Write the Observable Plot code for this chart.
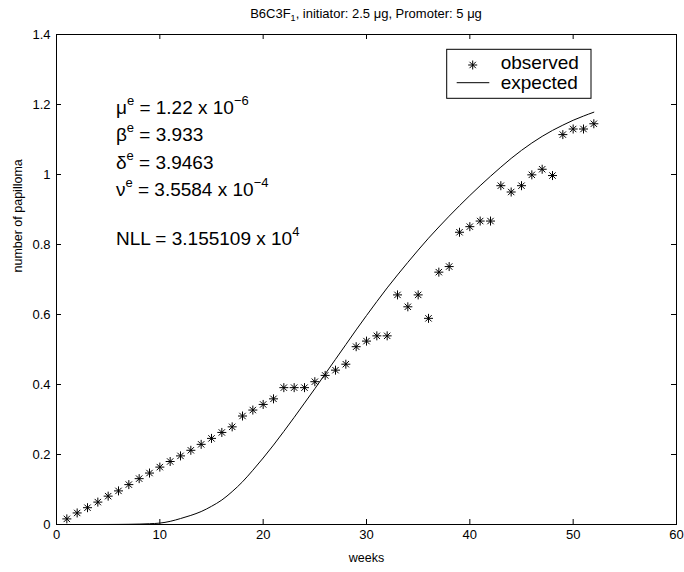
<!DOCTYPE html>
<html>
<head>
<meta charset="utf-8">
<script src="https://cdn.jsdelivr.net/npm/d3@7"></script>
<script src="https://cdn.jsdelivr.net/npm/@observablehq/plot@0.6"></script>
<style>
  html, body { margin: 0; padding: 0; background: #fff; }
  #chart svg { font-family: "Liberation Sans", Arial, Helvetica, sans-serif; background: #fff; }
</style>
</head>
<body>
<div id="chart"></div>
<script>
// ---------- data ----------
const weeks = [1,2,3,4,5,6,7,8,9,10,11,12,13,14,15,16,17,18,19,20,21,22,23,24,25,26,
               27,28,29,30,31,32,33,34,35,36,37,38,39,40,41,42,43,44,45,46,47,48,49,50,51,52];
const observed = [0.016,0.033,0.048,0.064,0.081,0.096,0.114,0.131,0.147,0.164,0.180,0.196,0.212,
                  0.229,0.246,0.263,0.279,0.310,0.327,0.343,0.359,0.391,0.391,0.391,0.408,0.426,
                  0.441,0.458,0.508,0.524,0.539,0.539,0.656,0.622,0.656,0.589,0.721,0.737,0.835,
                  0.851,0.867,0.867,0.968,0.950,0.968,0.999,1.015,0.997,1.114,1.130,1.130,1.145];
const expectedWeeks = [0,1,2,3,4,5,6,7,8,9,10,11,12,13,14,15,16,17,18,19,20,21,22,23,24,25,26,
                       27,28,29,30,31,32,33,34,35,36,37,38,39,40,41,42,43,44,45,46,47,48,49,50,51,52];
const expected = [0,0,0,0,0,0.0001,0.0003,0.0006,0.0012,0.0022,0.004,0.009,0.017,0.026,0.037,0.052,
                  0.070,0.094,0.122,0.155,0.190,0.227,0.266,0.306,0.347,0.388,0.430,0.472,0.514,0.556,
                  0.597,0.637,0.676,0.713,0.749,0.784,0.818,0.850,0.881,0.911,0.940,0.968,0.995,1.021,
                  1.046,1.069,1.090,1.109,1.126,1.141,1.155,1.167,1.178];
const xTicks = [0,10,20,30,40,50,60];
const yTicks = [0,0.2,0.4,0.6,0.8,1,1.2,1.4];
const yTickLabels = ["0","0.2","0.4","0.6","0.8","1","1.2","1.4"];
const seriesNames = ["observed","expected"];
const xLabel = "weeks";
const yLabel = "number of papilloma";
const titleParts = ["B6C3F", "1", ", initiator: 2.5 \u03BCg, Promoter: 5 \u03BCg"];
// annotation: [symbol, superscript, text, exponent]
const annotations = [
  ["\u03BC", "e", " = 1.22 x 10", "\u22126"],
  ["\u03B2", "e", " = 3.933", ""],
  ["\u03B4", "e", " = 3.9463", ""],
  ["\u03BD", "e", " = 3.5584 x 10", "\u22124"],
  ["", "", "NLL = 3.155109 x 10", "4"]
];
const annotX = 5.8;
const annotY = [1.171, 1.093, 1.014, 0.938, 0.797];

// ---------- tables ----------
const obsData = weeks.map((w, i) => ({week: w, value: observed[i]}));
const expData = expectedWeeks.map((w, i) => ({week: w, value: expected[i]}));

// ---------- layout ----------
const W = 684, H = 572;
const mT = 34, mR = 8, mB = 48, mL = 56;
const fw = W - mL - mR, fh = H - mT - mB;

const asterisk = {
  draw(context, size) {
    const r = Math.sqrt(size / Math.PI);
    const d = r * Math.SQRT1_2;
    context.moveTo(-r, 0); context.lineTo(r, 0);
    context.moveTo(0, -r); context.lineTo(0, r);
    context.moveTo(-d, -d); context.lineTo(d, d);
    context.moveTo(-d, d); context.lineTo(d, -d);
  }
};
const starR = 4.5;

function titleMark(index, scales, values, dim) {
  const g = d3.create("svg:g");
  const t = g.append("text")
    .attr("x", (dim.marginLeft + dim.width - dim.marginRight) / 2)
    .attr("y", 18)
    .attr("text-anchor", "middle")
    .attr("font-size", 13)
    .attr("fill", "black");
  t.append("tspan").text(titleParts[0]);
  t.append("tspan").attr("font-size", 9).attr("dy", 3).text(titleParts[1]);
  t.append("tspan").attr("dy", -3).text(titleParts[2]);
  return g.node();
}

function annotationMark(index, scales) {
  const g = d3.create("svg:g").attr("font-size", 19).attr("fill", "black")
    .attr("text-anchor", "start");
  annotations.forEach((a, i) => {
    const t = g.append("text").attr("x", scales.x(annotX)).attr("y", scales.y(annotY[i]));
    if (a[0]) t.append("tspan").text(a[0]);
    if (a[1]) t.append("tspan").attr("font-size", 13).attr("dy", -9).text(a[1]);
    t.append("tspan").attr("dy", a[1] ? 9 : 0).text(a[2]);
    if (a[3]) t.append("tspan").attr("font-size", 13).attr("dy", -9).text(a[3]);
  });
  return g.node();
}

function legendMark(index, scales, values, dim) {
  const g = d3.create("svg:g");
  const bx = dim.marginLeft + 390.7, by = dim.marginTop + 15.3;
  g.append("rect").attr("x", bx).attr("y", by).attr("width", 144.3).attr("height", 49)
    .attr("fill", "white").attr("stroke", "black").attr("stroke-width", 1);
  g.append("path").attr("transform", `translate(${bx + 26},${by + 15.7})`)
    .attr("d", d3.symbol(asterisk, Math.PI * starR * starR)())
    .attr("fill", "none").attr("stroke", "black").attr("stroke-width", 1);
  g.append("line").attr("x1", bx + 10).attr("x2", bx + 42.6)
    .attr("y1", by + 33.4).attr("y2", by + 33.4).attr("stroke", "black").attr("stroke-width", 1);
  const tg = g.append("g").attr("font-size", 19).attr("fill", "black").attr("text-anchor", "start");
  tg.append("text").attr("x", bx + 54).attr("y", by + 20).text(seriesNames[0]);
  tg.append("text").attr("x", bx + 54).attr("y", by + 40).text(seriesNames[1]);
  return g.node();
}

const chart = Plot.plot({
  width: W,
  height: H,
  marginTop: mT, marginRight: mR, marginBottom: mB, marginLeft: mL,
  style: {fontFamily: "'Liberation Sans', Arial, Helvetica, sans-serif", background: "white", color: "black"},
  x: {domain: [0, 60]},
  y: {domain: [0, 1.4]},
  marks: [
    // inward ticks on all four sides
    Plot.ruleX(xTicks, {x: d => d, insetTop: fh - 5, stroke: "black"}),
    Plot.ruleX(xTicks, {x: d => d, insetBottom: fh - 5, stroke: "black"}),
    Plot.ruleY(yTicks, {y: d => d, insetRight: fw - 5, stroke: "black"}),
    Plot.ruleY(yTicks, {y: d => d, insetLeft: fw - 5, stroke: "black"}),
    Plot.axisX(xTicks, {tickSize: 0, tickPadding: 5, fontSize: 13, label: null}),
    Plot.axisY(yTicks, {tickSize: 0, tickPadding: 6, fontSize: 13, label: null,
                        tickFormat: d => yTickLabels[yTicks.indexOf(d)]}),
    Plot.line(expData, {x: "week", y: "value", stroke: "black", strokeWidth: 1, curve: "monotone-x"}),
    Plot.dot(obsData, {x: "week", y: "value", symbol: asterisk, r: starR, fill: "none",
                       stroke: "black", strokeWidth: 1}),
    Plot.text([xLabel], {text: d => d, frameAnchor: "bottom", dy: 37, fontSize: 12.5,
                         lineAnchor: "bottom", fill: "black"}),
    Plot.text([yLabel], {text: d => d, frameAnchor: "left", dx: -39, dy: -7, rotate: -90,
                         fontSize: 12.5, fill: "black"}),
    annotationMark,
    legendMark,
    titleMark,
    Plot.frame({stroke: "black", strokeWidth: 1})
  ]
});
document.getElementById("chart").appendChild(chart);
</script>
</body>
</html>
